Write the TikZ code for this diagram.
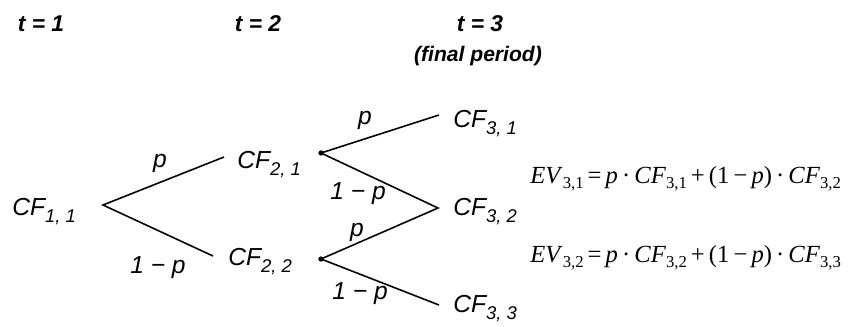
\documentclass[tikz,border=0pt]{standalone}
\usepackage{fontspec}
\setmainfont{Liberation Sans}
\newfontfamily\eqfont{Liberation Serif}
\usetikzlibrary{positioning}

\newcommand{\cfsub}[1]{\raisebox{-0.55ex}{\fontsize{10.5}{10.5}\selectfont #1}}
\newcommand{\evsub}[1]{\raisebox{-0.5ex}{\fontsize{9.5}{9.5}\selectfont\upshape #1}}

\tikzset{
  stagelabel/.style={font=\fontsize{13}{15}\selectfont\bfseries\itshape, inner sep=0pt},
  cfnode/.style={font=\fontsize{14}{16}\selectfont\itshape, inner sep=0pt, anchor=base west},
  problabel/.style={font=\fontsize{14}{16}\selectfont\itshape, inner sep=0pt},
  evnode/.style={font=\eqfont\fontsize{14}{16}\selectfont, inner sep=0pt, anchor=base west},
  branch/.style={line width=0.9pt},
  knot/.style={circle, fill=black, inner sep=0pt, minimum size=3pt},
}

\begin{document}
\begin{tikzpicture}[x=0.02cm, y=-0.02cm]
  \useasboundingbox (0,0) rectangle (849,326);

  % period headers
  \node[stagelabel] (t1) at (41,24) {t = 1};
  \node[stagelabel] (t2) at (258,24) {t = 2};
  \node[stagelabel] (t3) at (480,24) {t = 3};
  \node[stagelabel, font=\fontsize{12}{14}\selectfont\bfseries\itshape] (final) at (478,56) {(final period)};

  % cash flows
  \node[cfnode] (cf11) at (12,215) {CF\cfsub{1, 1}};
  \node[cfnode] (cf21) at (237,168) {CF\cfsub{2, 1}};
  \node[cfnode] (cf22) at (228,265) {CF\cfsub{2, 2}};
  \node[cfnode] (cf31) at (453,127) {CF\cfsub{3, 1}};
  \node[cfnode] (cf32) at (453,215) {CF\cfsub{3, 2}};
  \node[cfnode] (cf33) at (453,312) {CF\cfsub{3, 3}};

  % branch points
  \coordinate (root) at (103,205);
  \coordinate (up21) at (224,157);
  \coordinate (lo22) at (213,256);
  \node[knot] (k21) at (321,153) {};
  \node[knot] (k22) at (321,259) {};
  \coordinate (up31) at (439,115);
  \coordinate (mid32) at (438,208);
  \coordinate (lo33) at (439,305);

  \draw[branch] (up21) -- (root) -- (lo22);
  \draw[branch] (up31) -- (k21.center) -- (mid32) -- (k22.center) -- (lo33);

  % probabilities
  \node[problabel] (pa) at (160,163) {p};
  \node[problabel] (qa) at (158,268) {1 − p};
  \node[problabel] (pb) at (365,120) {p};
  \node[problabel] (qb) at (358,194) {1 − p};
  \node[problabel] (pc) at (357,232) {p};
  \node[problabel] (qc) at (360,294) {1 − p};

  % expected values
  \node[evnode] (ev31) at (530,183) {\textit{EV}\evsub{3,1}\,=\,\textit{p}\,·\,\textit{CF}\evsub{3,1}\,+\,(1\,−\,\textit{p})\,·\,\textit{CF}\evsub{3,2}};
  \node[evnode] (ev32) at (530,262) {\textit{EV}\evsub{3,2}\,=\,\textit{p}\,·\,\textit{CF}\evsub{3,2}\,+\,(1\,−\,\textit{p})\,·\,\textit{CF}\evsub{3,3}};
\end{tikzpicture}
\end{document}
